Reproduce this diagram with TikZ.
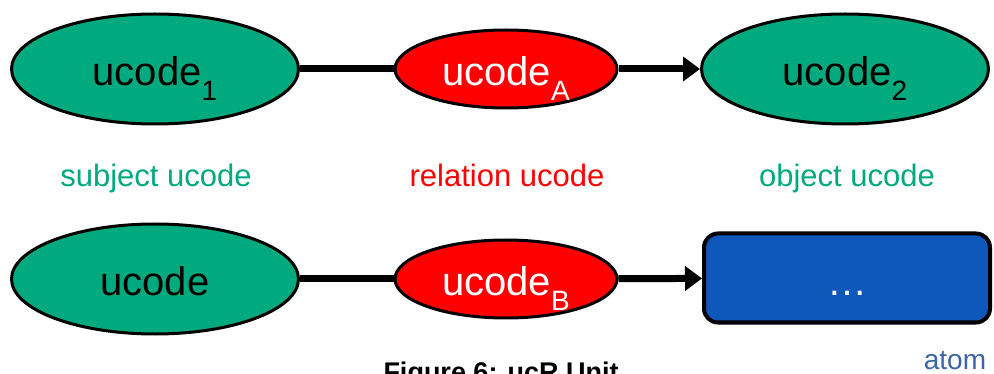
\documentclass[tikz,border=0pt]{standalone}
\usepackage{fontspec}
\setmainfont{Liberation Sans}
\usetikzlibrary{arrows.meta}
\usepgflibrary{shapes.geometric}
\definecolor{ugreen}{RGB}{0,170,126}
\definecolor{ured}{RGB}{255,0,0}
\definecolor{ublue}{RGB}{13,88,186}
\definecolor{uatom}{RGB}{60,100,168}
\newcommand{\ucsub}[1]{\raisebox{-0.36em}{\fontsize{28}{28}\selectfont #1}}

\begin{document}
\begin{tikzpicture}[x=1pt, y=-1pt,
    subj/.style={ellipse, draw=black, line width=3pt, fill=ugreen, minimum width=287pt, minimum height=110pt, inner sep=0pt, text height=40pt, text depth=6pt, font=\fontsize{40}{40}\selectfont},
    rel/.style={ellipse, draw=black, line width=3pt, fill=ured, text=white, minimum width=222pt, minimum height=78pt, inner sep=0pt, text height=40pt, text depth=6pt, font=\fontsize{40}{40}\selectfont},
    atombox/.style={rectangle, rounded corners=14pt, draw=black, line width=4pt, fill=ublue, text=white, minimum width=286pt, minimum height=89pt, inner sep=0pt, text height=40pt, text depth=6pt, font=\fontsize{40}{40}\selectfont},
    role/.style={anchor=base, font=\fontsize{31}{31}\selectfont},
    link/.style={line width=7pt}]
  \useasboundingbox (0,0) rectangle (994,374);
  % top row
  \node[subj] (s1) at (155,69) {ucode\ucsub{1}};
  \node[rel] (ra) at (506,69) {ucode\ucsub{A}};
  \node[subj] (o1) at (845,69) {ucode\ucsub{2}};
  \draw[link] (s1) -- (ra);
  \draw[link, -{Triangle[length=17pt,width=24pt]}] (ra) -- (o1);
  % roles
  \node[role, text=ugreen] (lsubj) at (156,187) {subject ucode};
  \node[role, text=ured] (lrel) at (507,187) {relation ucode};
  \node[role, text=ugreen] (lobj) at (847,187) {object ucode};
  % bottom row
  \node[subj] (s2) at (155,279) {ucode};
  \node[rel] (rb) at (506,279) {ucode\ucsub{B}};
  \node[atombox] (at) at (847,278) {…};
  \draw[link] (s2) -- (rb);
  \draw[link, -{Triangle[length=17pt,width=24pt]}] (rb) -- (at);
  \node[anchor=base, text=uatom, font=\fontsize{28}{28}\selectfont] (latom) at (955,369) {atom};
  \node[anchor=base, font=\bfseries\fontsize{27}{27}\selectfont] (cap) at (501,381) {Figure 6: ucR Unit};
\end{tikzpicture}
\end{document}
